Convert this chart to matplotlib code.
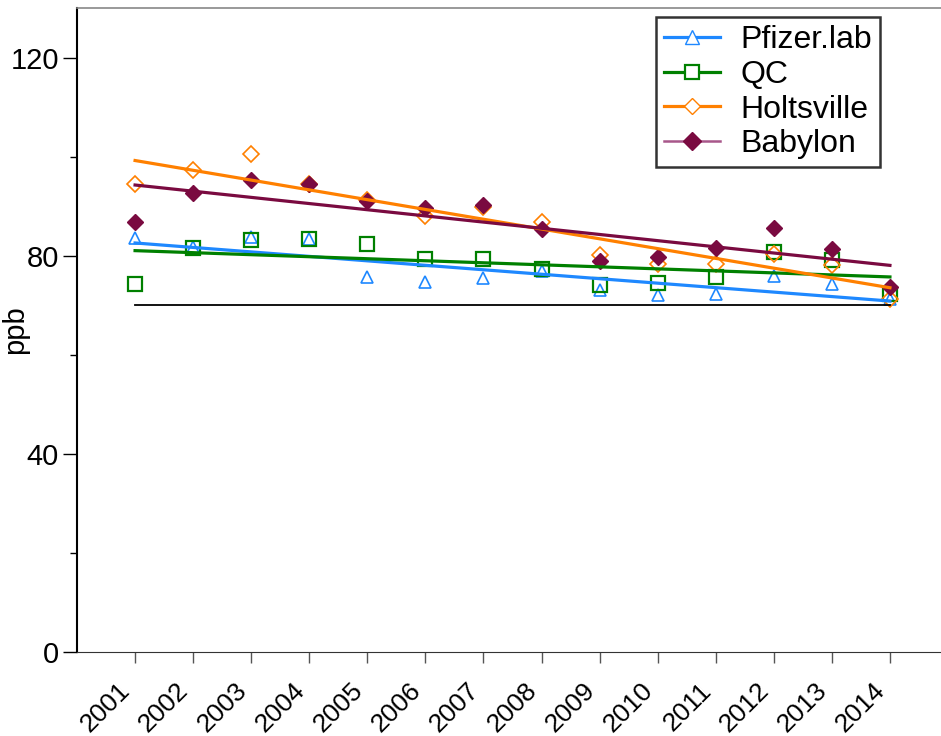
import numpy as np
import matplotlib
matplotlib.use("Agg")
import matplotlib.pyplot as plt
import matplotlib.transforms as mtransforms
from matplotlib.lines import Line2D

plt.rcParams['font.family'] = ['Liberation Sans', 'DejaVu Sans']

years = list(range(2001, 2015))
pfizer = [83.5, 81.7, 83.8, 83.3, 75.7, 74.7, 75.4, 77.0, 73.0, 72.0, 72.3, 76.0, 74.2, 71.3]
qc = [74.2, 81.6, 83.1, 83.4, 82.4, 79.4, 79.4, 77.4, 74.0, 74.4, 75.7, 80.7, 79.1, 72.3]
holtsville = [94.5, 97.2, 100.6, 94.5, 91.2, 88.1, 89.8, 86.8, 80.1, 78.4, 78.3, 80.3, 78.1, 71.3]
babylon = [86.9, 92.6, 95.2, 94.5, 91.0, 89.7, 90.3, 85.3, 78.9, 79.7, 81.6, 85.6, 81.3, 73.6]
standard = 70

names = ['Pfizer.lab', 'QC', 'Holtsville', 'Babylon']
colors = ['#1E88FF', '#008000', '#FF8000', '#7A0A40']

fig = plt.figure(figsize=(9.41, 7.36), dpi=100)
ax = fig.add_axes([77/941, 84/736, 871/941, 644/736])

x = np.array(years)

# points
ax.plot(x, pfizer, ls='none', marker='^', ms=9, mfc='none', mec=colors[0], mew=1.2)
ax.plot(x, qc, ls='none', marker='s', ms=10, mfc='none', mec=colors[1], mew=1.6)
ax.plot(x, holtsville, ls='none', marker='D', ms=8, mfc='none', mec=colors[2], mew=1.2)
ax.plot(x, babylon, ls='none', marker='D', ms=8, mfc=colors[3], mec=colors[3])

# linear trends
for ys, c in zip([pfizer, qc, holtsville, babylon], colors):
    k, b = np.polyfit(x, ys, 1)
    ax.plot(x, k * x + b, color=c, lw=2.3)

ax.plot([years[0], years[-1]], [standard, standard], color='black', lw=1.3)

ax.set_xlim(2000, 2015)
ax.set_ylim(0, 130)
ax.set_xticks(years)
ax.set_xticklabels([str(y) for y in years], rotation=45, ha='right', va='top',
                   fontsize=19)
shift = mtransforms.ScaledTranslation(-2/100, 0, fig.dpi_scale_trans)
for lbl in ax.get_xticklabels():
    lbl.set_transform(lbl.get_transform() + shift)
ax.set_yticks([0, 40, 80, 120])
ax.set_yticks([20, 60, 100], minor=True)
ax.tick_params(axis='y', which='major', length=10, width=1, labelsize=21, pad=3)
ax.tick_params(axis='y', which='minor', length=5, width=1)
ax.tick_params(axis='x', length=8, width=1, color='#555555', pad=11)
ax.set_ylabel('ppb', fontsize=21)
ax.yaxis.set_label_coords(-0.055, 0.5)

ax.spines['right'].set_visible(False)
ax.spines['top'].set_color('#888888')
ax.spines['top'].set_linewidth(1.2)
ax.spines['left'].set_linewidth(1.5)
ax.spines['bottom'].set_color('#333333')

handles = [
    Line2D([], [], color=colors[0], lw=2.3, marker='^', ms=10, mfc='white', mec=colors[0]),
    Line2D([], [], color=colors[1], lw=2.3, marker='s', ms=10, mfc='white', mec=colors[1], mew=1.6),
    Line2D([], [], color=colors[2], lw=2.3, marker='D', ms=8, mfc='white', mec=colors[2]),
    Line2D([], [], color='#A8578A', lw=1.8, marker='D', ms=9, mfc=colors[3], mec=colors[3]),
]
leg = ax.legend(handles, names, loc='upper right', bbox_to_anchor=(880/941, 1 - 17/736),
                bbox_transform=fig.transFigure, borderaxespad=0, fontsize=23, frameon=True,
                fancybox=False, handlelength=1.75, labelspacing=0.15, borderpad=0.25,
                handletextpad=0.65)
leg.get_frame().set_edgecolor('black')
leg.get_frame().set_linewidth(1.8)

fig.savefig('out.png', dpi=100)
